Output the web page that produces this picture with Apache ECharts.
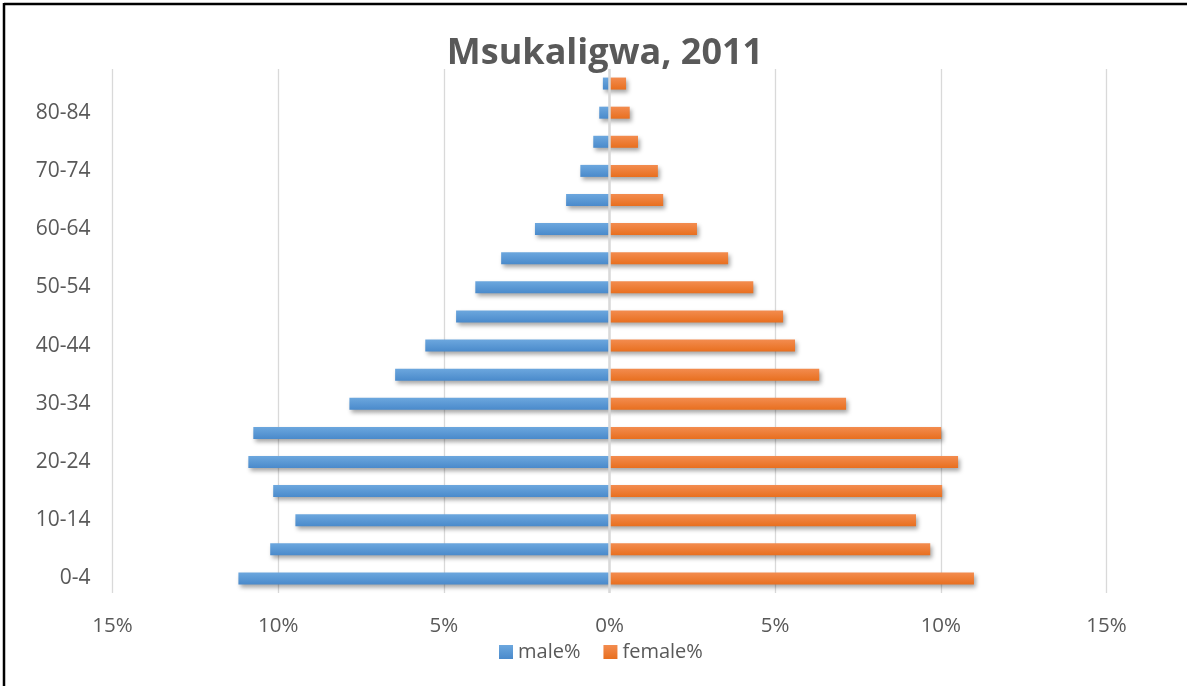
<!DOCTYPE html>
<html>
<head>
<meta charset="utf-8">
<title>Msukaligwa, 2011</title>
<script src="https://cdn.jsdelivr.net/npm/echarts@6/dist/echarts.min.js"></script>
<style>
  html, body { margin: 0; padding: 0; background: #fff; }
  #chart { width: 1187px; height: 686px; }
</style>
</head>
<body>
<div id="chart"></div>
<script>
// age groups, bottom to top
const ageGroups = ['0-4', '5-9', '10-14', '15-19', '20-24', '25-29', '30-34', '35-39', '40-44',
  '45-49', '50-54', '55-59', '60-64', '65-69', '70-74', '75-79', '80-84', '85+']
// share of total population, %
const malePct = [11.2, 10.24, 9.48, 10.15, 10.9, 10.75, 7.85, 6.47, 5.56,
  4.63, 4.05, 3.27, 2.25, 1.31, 0.88, 0.49, 0.31, 0.2]
const femalePct = [11.0, 9.68, 9.25, 10.04, 10.52, 10.01, 7.14, 6.33, 5.6,
  5.24, 4.34, 3.58, 2.64, 1.62, 1.46, 0.86, 0.61, 0.5]
const xTicks = [-15, 15, 5] // min, max, step

const chartInstance = echarts.init(document.getElementById('chart'))
const font = "'Open Sans', sans-serif"
const textColor = '#595959'

const barShadow = {
  shadowColor: 'rgba(0, 0, 0, 0.35)',
  shadowBlur: 4,
  shadowOffsetX: 2,
  shadowOffsetY: 3
}

function grad(top, bottom) {
  return new echarts.graphic.LinearGradient(0, 0, 0, 1, [
    {offset: 0, color: top},
    {offset: 1, color: bottom}
  ])
}

const option = {
  backgroundColor: '#fff',
  animation: false,
  title: {
    text: 'Msukaligwa, 2011',
    left: 600,
    textAlign: 'center',
    top: 31,
    textStyle: {
      fontFamily: font,
      fontWeight: 'bold',
      fontSize: 36,
      color: textColor
    }
  },
  graphic: [
    {type: 'line', shape: {x1: 4, y1: 4, x2: 1187, y2: 4}, style: {stroke: '#000', lineWidth: 2.5}},
    {type: 'line', shape: {x1: 4, y1: 3, x2: 4, y2: 686}, style: {stroke: '#000', lineWidth: 2.5}}
  ],
  legend: {
    left: 494,
    top: 637,
    itemWidth: 14,
    itemHeight: 14,
    itemGap: 23,
    icon: 'rect',
    textStyle: {fontFamily: font, fontSize: 20, color: textColor},
    data: ['male%', 'female%']
  },
  grid: {
    left: 112.5,
    right: 80.5,
    top: 69,
    bottom: 93
  },
  xAxis: {
    type: 'value',
    min: xTicks[0],
    max: xTicks[1],
    interval: xTicks[2],
    axisLine: {show: false},
    axisTick: {show: false},
    splitLine: {lineStyle: {color: '#d9d9d9', width: 1.3}},
    axisLabel: {
      fontFamily: font,
      fontSize: 20.5,
      color: textColor,
      margin: 23,
      formatter: v => Math.abs(v) + '%'
    }
  },
  yAxis: {
    type: 'category',
    data: ageGroups,
    axisLine: {show: false},
    axisTick: {show: false},
    axisLabel: {
      interval: 1,
      fontFamily: font,
      fontSize: 21,
      color: textColor,
      margin: 22
    }
  },
  series: [
    {
      name: 'male%',
      type: 'bar',
      data: malePct.map(v => -v),
      barWidth: 12,
      barGap: '-100%',
      itemStyle: Object.assign({color: grad('#6ca7de', '#4a8acb')}, barShadow),
      markLine: {
        silent: true,
        symbol: 'none',
        label: {show: false},
        lineStyle: {color: '#d9d9d9', width: 2.5, type: 'solid'},
        data: [{xAxis: 0}]
      }
    },
    {
      name: 'female%',
      type: 'bar',
      data: femalePct,
      barWidth: 12,
      itemStyle: Object.assign({color: grad('#f38c4f', '#e86f1f')}, barShadow)
    }
  ]
}
chartInstance.setOption(option)
</script>
</body>
</html>
